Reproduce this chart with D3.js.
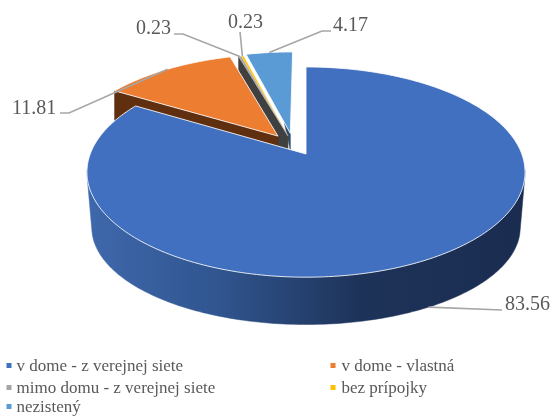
<!DOCTYPE html>
<html><head><meta charset="utf-8">
<style>html,body{margin:0;padding:0;background:#fff}svg{display:block;filter:blur(.35px)}text{font-family:"Liberation Serif",serif;fill:#595959}</style>
<script src="https://cdn.jsdelivr.net/npm/d3@7/dist/d3.min.js"></script>
</head><body><svg id="c" width="551" height="416"></svg>
<script>
const categories = ["v dome - z verejnej siete","v dome - vlastná","mimo domu - z verejnej siete","bez prípojky","nezistený"];
const values = [83.56,11.81,0.23,0.23,4.17];
const valueLabels = ["83.56","11.81","0.23","0.23","4.17"];
const topColors = ["#4170c0","#ed7d31","#a5a5a5","#ffc000","#5b9bd5"];
const wallColors = ["#1a2c50","#5f2f10","#404040","#7f6000","#2e4a6a"];

// projection settings
const cx=306, cy=154, rx=215.8, ry=102, k=0.172, depth=33;
const bottomBlue={cy:211, ry:94, rx:211};
const offsets=[[0,0],[-.134,-.181],[-.087,-.185],[-.087,-.185],[-.075,-.209]];
const labelPos=[[505,310],[12,114],[136,34],[228,28],[333,31]];
const elbows=[[502,310],[69,113],[183,34],[240,32],[322,31]];
const elbowStart=[null,[60,113],[174,34],null,[331,31]];

const svg=d3.select("#c");
const defs=svg.append("defs");
const g=defs.append("linearGradient").attr("id","wall").attr("gradientUnits","userSpaceOnUse")
  .attr("x1",87).attr("x2",525).attr("y1",0).attr("y2",0);
[[0,"#3f68ac"],[.3,"#30558f"],[.62,"#1e3359"],[1,"#1a2c50"]].forEach(s=>g.append("stop").attr("offset",s[0]).attr("stop-color",s[1]));

function P(u,v,h){
  const s=1/(1-k*v);
  return [cx+rx*u*s, cy+(ry*v+(h||0))*s];
}
function B(u,v){
  const s=1/(1-k*v);
  return [cx+bottomBlue.rx*u*s, bottomBlue.cy+bottomBlue.ry*v*s];
}
const dir=a=>[Math.sin(a),-Math.cos(a)];
const arcs=d3.pie().sort(null).value(d=>d)(values);
const line=d3.line();
function arcPts(a0,a1,o,f){
  const n=Math.max(2,Math.ceil((a1-a0)/0.02));
  return d3.range(n+1).map(i=>{const a=a0+(a1-a0)*i/n,d=dir(a);return f(o[0]+d[0],o[1]+d[1])});
}
const layer=svg.append("g");
[4,3,2,1,0].forEach(i=>{
  const a=arcs[i], o=offsets[i], gg=layer.append("g");
  const w=i===0?"url(#wall)":wallColors[i];
  const poly=pts=>gg.append("path").attr("d",line(pts)+"Z").attr("fill",w).attr("stroke",w).attr("stroke-width",.5);
  const top=arcPts(a.startAngle,a.endAngle,o,(u,v)=>P(u,v,0));
  if(i===0){
    // hull of the two rims on the viewer's side gives the straight silhouette at both ends
    const front0=Math.PI/2+0.15, front1=Math.PI*1.5-0.15;
    const hull=d3.polygonHull(arcPts(front0,front1,o,(u,v)=>P(u,v,0)).concat(arcPts(front0,front1,o,B)));
    poly(hull);
  } else if(i===4){
    const d=dir(a.startAngle);
    poly([P(o[0],o[1],0),P(o[0]+d[0]*.12,o[1]+d[1]*.12,0),P(o[0],o[1],18)]);
  } else {
    const d=dir(a.startAngle);
    poly([P(o[0],o[1],0),P(o[0]+d[0],o[1]+d[1],0),P(o[0]+d[0],o[1]+d[1],depth),P(o[0],o[1],depth)]);
  }
  gg.append("path").attr("d",line([P(o[0],o[1],0)].concat(top))+"Z")
    .attr("fill",topColors[i]).attr("stroke","#fff").attr("stroke-opacity",.85).attr("stroke-width",(i===2||i===3)?.4:1);
});

// leaders and labels
const lead=svg.append("g").attr("fill","none").attr("stroke","#a6a6a6").attr("stroke-width",1.6);
arcs.forEach((a,i)=>{
  const m=(a.startAngle+a.endAngle)/2,d=dir(m),o=offsets[i];
  const anchor=i===0?B(o[0]+d[0],o[1]+d[1]):P(o[0]+d[0],o[1]+d[1],0);
  const pts=[anchor,elbows[i]];
  if(elbowStart[i]) pts.push(elbowStart[i]);
  lead.append("path").attr("d",line(pts));
  svg.append("text").attr("x",labelPos[i][0]).attr("y",labelPos[i][1]).attr("font-size",20).text(valueLabels[i]);
});

// legend
const lx=[6,330],ly=[371,393,412];
categories.forEach((c,i)=>{
  const col=i%2,row=Math.floor(i/2);
  svg.append("rect").attr("x",lx[col]+.5).attr("y",ly[row]-8).attr("width",5).attr("height",5).attr("fill",topColors[i]);
  svg.append("text").attr("x",lx[col]+(col?11.5:10.5)).attr("y",ly[row]).attr("font-size",17).text(c);
});
</script></body></html>
